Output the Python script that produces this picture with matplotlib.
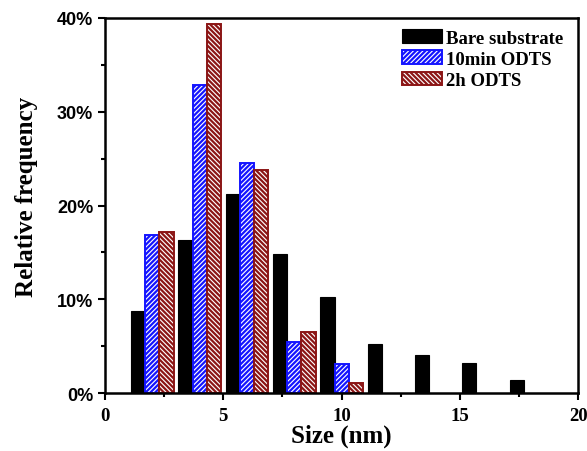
import matplotlib
matplotlib.use("Agg")
import matplotlib.pyplot as plt
import numpy as np

group_centers = [2, 4, 6, 8, 10, 12, 14, 16, 18]
bare = [8.8, 16.3, 21.2, 14.8, 10.2, 5.2, 4.1, 3.2, 1.4]
odts10 = [16.85, 32.85, 24.5, 5.5, 3.1]
odts2h = [17.2, 39.4, 23.8, 6.5, 1.07]
labels = ["Bare substrate", "10min ODTS", "2h ODTS"]
yticks = [0, 10, 20, 30, 40]
xticks = [0, 5, 10, 15, 20]

plt.rcParams['hatch.linewidth'] = 1.6
fig = plt.figure(figsize=(5.87, 4.52), dpi=100)
ax = fig.add_axes([0.179, 0.128, 0.806, 0.830])

w = 0.6
gc = np.array(group_centers, dtype=float)
blue = "#1414ff"
red = "#8b1515"

ax.bar(gc - w, bare, width=w, color="black", edgecolor="black", linewidth=0.8, label=labels[0])
ax.bar(gc[:len(odts10)], odts10, width=w, facecolor="white", edgecolor=blue,
       hatch="///////", linewidth=1.4, label=labels[1])
ax.bar(gc[:len(odts2h)] + w, odts2h, width=w, facecolor="white", edgecolor=red,
       hatch="\\\\\\\\\\\\\\", linewidth=1.4, label=labels[2])

ax.set_xlim(0, 20)
ax.set_ylim(0, 40)
ax.set_xticks(xticks)
ax.set_xticks([2.5, 7.5, 12.5, 17.5], minor=True)
ax.set_yticks(yticks)
ax.set_yticks([5, 15, 25, 35], minor=True)
ax.set_xticklabels([str(v) for v in xticks], family="Liberation Serif", fontweight="bold", fontsize=13.5)
ax.set_yticklabels([f"{v}%" for v in yticks], family="Liberation Sans", fontweight="bold", fontsize=13)
ax.tick_params(which="major", direction="out", length=5, width=1.5)
ax.tick_params(which="minor", direction="out", length=3, width=1.5)
ax.tick_params(axis="x", pad=5)
for s in ax.spines.values():
    s.set_linewidth(1.8)

ax.set_xlabel("Size (nm)", family="Liberation Serif", fontweight="bold", fontsize=18, labelpad=0)
ax.set_ylabel("Relative frequency", family="Liberation Serif", fontweight="bold", fontsize=18)
ax.yaxis.set_label_coords(-0.142, 0.525)

leg = ax.legend(loc="upper right", bbox_to_anchor=(0.993, 1.0), frameon=False,
                prop={"family": "Liberation Serif", "weight": "bold", "size": 13.5},
                handlelength=2.1, handleheight=0.75, labelspacing=0.2, handletextpad=0.25,
                borderaxespad=0.2)

fig.savefig("out.png", dpi=100)
